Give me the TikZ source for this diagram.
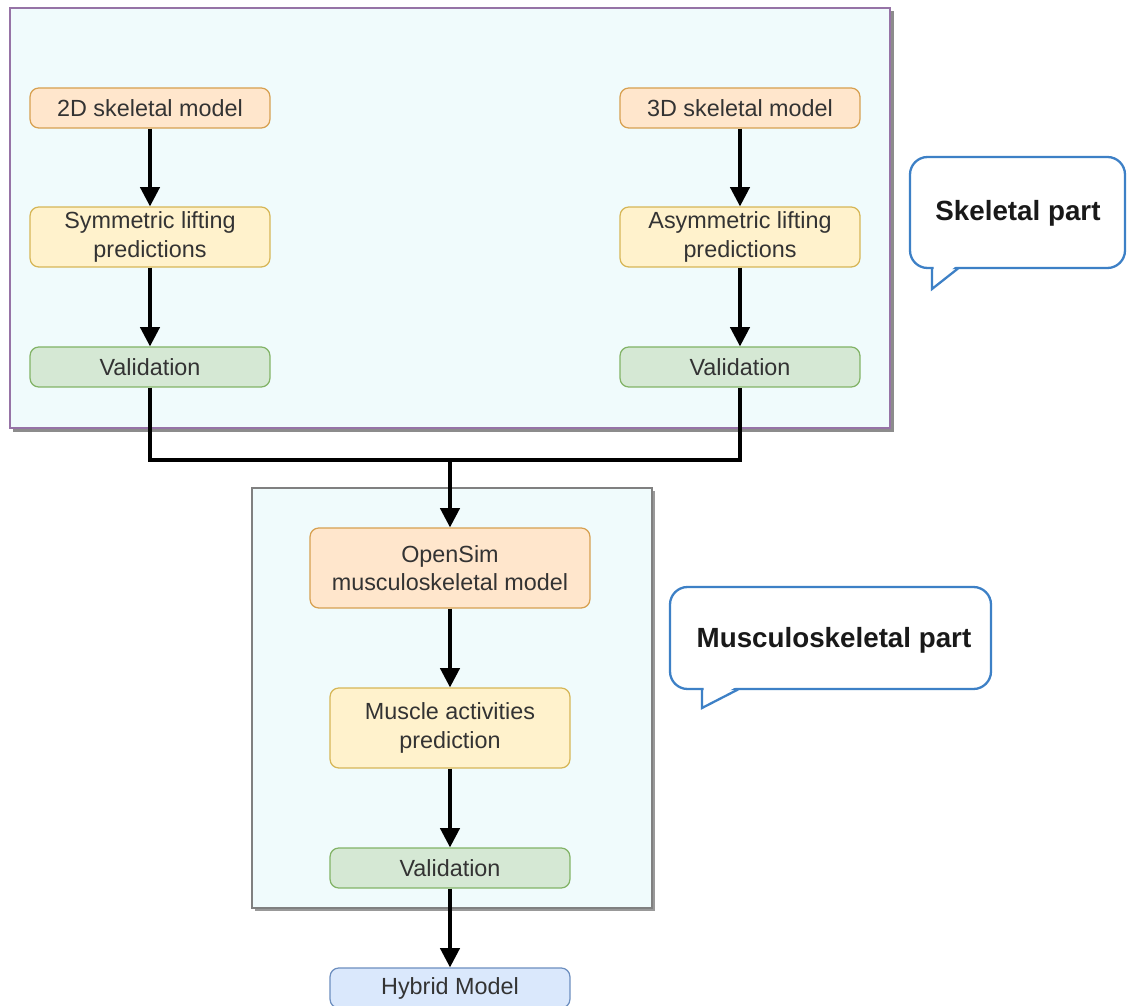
\documentclass[tikz,border=0pt]{standalone}
\usepackage{fontspec}
\setmainfont{Liberation Sans}
\usetikzlibrary{arrows.meta}
\definecolor{ofill}{HTML}{FFE6CC}\definecolor{odraw}{HTML}{D7A050}
\definecolor{yfill}{HTML}{FFF2CC}\definecolor{ydraw}{HTML}{D6B656}
\definecolor{gfill}{HTML}{D5E8D4}\definecolor{gdraw}{HTML}{82B366}
\definecolor{bfill}{HTML}{DAE8FC}\definecolor{bdraw}{HTML}{6C8EBF}
\definecolor{purp}{HTML}{9673A6}
\definecolor{cont}{HTML}{F0FBFC}
\definecolor{calldraw}{HTML}{3D80C6}
\definecolor{txt}{HTML}{333333}
\tikzset{
  procbox/.style={rounded corners=5, line width=0.7pt, align=center, text=txt,
    font=\fontsize{13.3}{16}\selectfont, minimum width=4.8cm, inner sep=0pt},
  obox/.style={procbox, fill=ofill, draw=odraw},
  ybox/.style={procbox, fill=yfill, draw=ydraw},
  gbox/.style={procbox, fill=gfill, draw=gdraw},
  bbox/.style={procbox, fill=bfill, draw=bdraw},
  conn/.style={line width=2pt, black},
  arr/.style={conn, -{Triangle[length=11pt, width=11pt]}},
  callout/.style={draw=calldraw, fill=white, line width=1.3pt},
  calltext/.style={font=\bfseries\fontsize{15.8}{19}\selectfont, text=black!90}
}
\begin{document}
\begin{tikzpicture}[x=0.02cm, y=-0.02cm]
\useasboundingbox (0,0) rectangle (1127,1006);
\fill[white] (0,0) rectangle (1127,1006);
% containers
\fill[black!45] (13,11) rectangle (894,432);
\draw[fill=cont, draw=purp, line width=1.5pt] (10,8) rectangle (890,428);
\fill[black!40] (255,491) rectangle (655,911);
\draw[fill=cont, draw=black!50, line width=0.8pt] (252,488) rectangle (652,908);
% nodes
\node[obox, minimum height=0.8cm] (a1) at (150,108) {2D skeletal model};
\node[ybox, minimum height=1.2cm] (a2) at (150,237) {Symmetric lifting\\predictions};
\node[gbox, minimum height=0.8cm] (a3) at (150,367) {Validation};
\node[obox, minimum height=0.8cm] (b1) at (740,108) {3D skeletal model};
\node[ybox, minimum height=1.2cm] (b2) at (740,237) {Asymmetric lifting\\predictions};
\node[gbox, minimum height=0.8cm] (b3) at (740,367) {Validation};
\node[obox, minimum height=1.6cm, minimum width=5.6cm] (c1) at (450,568) {OpenSim\\musculoskeletal model};
\node[ybox, minimum height=1.6cm] (c2) at (450,728) {Muscle activities\\prediction};
\node[gbox, minimum height=0.8cm] (c3) at (450,868) {Validation};
\node[bbox, minimum height=0.8cm] (d) at (450,988) {Hybrid Model};
\coordinate (j) at (450,460);
% connectors
\draw[arr] (a1) -- (a2);
\draw[arr] (a2) -- (a3);
\draw[arr] (b1) -- (b2);
\draw[arr] (b2) -- (b3);
\draw[conn] (a3.south) |- (j) -| (b3.south);
\draw[arr] (j) -- (c1.north);
\draw[arr] (c1) -- (c2);
\draw[arr] (c2) -- (c3);
\draw[arr] (c3) -- (d);
% callout 1
\draw[callout, rounded corners=10] (910,157) rectangle (1125,268);
\fill[white] (933.5,266) -- (956,266) -- (933.5,285) -- cycle;
\draw[callout, fill=none, line join=miter] (932,267.5) -- (932,289) -- (958,268.5);
\node[calltext] (s1) at (1018,213) {Skeletal part};
% callout 2
\draw[callout, rounded corners=10] (670,587) rectangle (991,689);
\fill[white] (703.5,687) -- (736,687) -- (703.5,705) -- cycle;
\draw[callout, fill=none, line join=miter] (702,688.5) -- (702,708) -- (738,689.5);
\node[calltext] (s2) at (834,640) {Musculoskeletal part};
\end{tikzpicture}
\end{document}
